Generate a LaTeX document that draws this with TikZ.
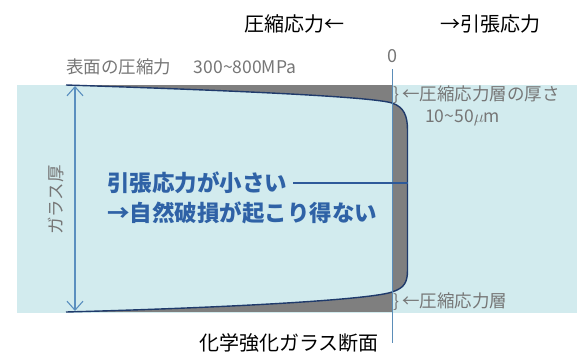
\documentclass[tikz,border=0pt]{standalone}
\usepackage{fontspec}
\setmainfont{Noto Sans CJK JP}
\usetikzlibrary{arrows.meta}
\definecolor{band}{HTML}{D2EBEE}
\definecolor{stressgray}{HTML}{7F7F7F}
\definecolor{navy}{HTML}{1F3A6B}
\definecolor{axisblue}{HTML}{5B8DB8}
\definecolor{arrowblue}{HTML}{5A8FBF}
\definecolor{textblue}{HTML}{2F62A6}
\definecolor{linkblue}{HTML}{2E5A9A}
\definecolor{annot}{HTML}{767676}
\tikzset{
  curvepath/.style={insert path={(66,85) .. controls (250,91) and (372,97) .. (392,103)
     .. controls (404,107) and (407.5,116) .. (407.5,130) -- (407.5,270)
     .. controls (407.5,283) and (404,288) .. (392,292)
     .. controls (372,299) and (250,307) .. (66,312)}},
  title/.style={font=\fontsize{20}{22}\selectfont, text=black, inner sep=0pt},
  annottext/.style={font=\fontsize{17.5}{19}\selectfont, text=annot, inner sep=0pt},
  bluetext/.style={font=\fontsize{22.5}{25}\bfseries\selectfont, text=textblue, inner sep=0pt},
}
\begin{document}
\begin{tikzpicture}[x=1pt,y=-1pt]
\useasboundingbox (0,0) rectangle (577,356);
\fill[band] (17,85) rectangle (577,313);
% gray stress region
\fill[stressgray] (66,85) -- (392,85) -- (392,312) -- (66,312) -- cycle;
\fill[stressgray, curvepath] -- cycle;
\begin{scope}
  \clip (0,0) rectangle (392,356);
  \fill[band, curvepath] -- cycle;
\end{scope}
\draw[navy, line width=1.4pt, curvepath];
% axis
\coordinate (axtop) at (392,69);
\coordinate (axbot) at (392,343);
\draw[axisblue, line width=0.9pt] (axtop) -- (axbot);
% glass thickness arrow
\coordinate (thtop) at (75,86);
\coordinate (thbot) at (75,311);
\draw[arrowblue, line width=1.1pt, {Straight Barb[length=9pt,width=16pt]}-{Straight Barb[length=9pt,width=16pt]}] (thtop) -- (thbot);
\node[annottext, rotate=90] (thick) at (56,200) {ガラス厚};
% titles
\node[title] (comp) at (294,24) {圧縮応力←};
\node[title] (tens) at (490,24) {→引張応力};
\node[annottext, font=\fontsize{18}{19}\selectfont] (zero) at (392,56) {0};
\node[annottext, anchor=west] (surf) at (66,67) {表面の圧縮力\hspace{1.3em}300\textasciitilde800MPa};
\node[annottext, anchor=west] (thk) at (393,95) {\}\,←圧縮応力層の厚さ};
\node[annottext, anchor=west] (thkv) at (425,118) {10\textasciitilde50$\mu$m};
\node[annottext, anchor=west] (lay) at (393,302) {\}\,←圧縮応力層};
% blue notes
\node[bluetext, anchor=west] (n1) at (107,183) {引張応力が小さい};
\node[bluetext, anchor=west] (n2) at (107,213) {→自然破損が起こり得ない};
\coordinate (ncurve) at (407.5,183);
\draw[linkblue, line width=1.2pt] ([xshift=6pt]n1.east) -- (ncurve);
% bottom label
\node[title] (cap) at (289,343) {化学強化ガラス断面};
\end{tikzpicture}
\end{document}
